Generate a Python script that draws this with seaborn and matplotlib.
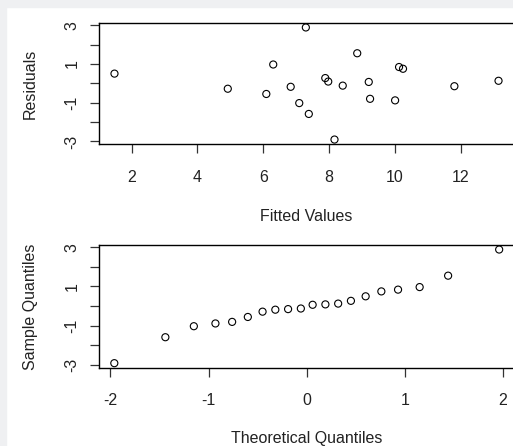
import matplotlib
matplotlib.use("Agg")
import matplotlib.pyplot as plt
from matplotlib.patches import Rectangle
import pandas as pd
import seaborn as sns

# values
fitted = [8.16, 7.38, 7.09, 10.00, 9.24, 6.09, 4.92, 6.83, 11.80, 8.41,
          9.20, 7.97, 13.14, 7.88, 1.48, 10.24, 10.12, 6.30, 8.85, 7.29]
residuals = [-2.90, -1.58, -1.02, -0.88, -0.80, -0.55, -0.28, -0.18, -0.15, -0.12,
             0.07, 0.09, 0.13, 0.27, 0.50, 0.75, 0.84, 0.97, 1.55, 2.88]

theoretical_q = [-1.96, -1.44, -1.15, -0.93, -0.76, -0.60, -0.45, -0.32, -0.19, -0.06,
                 0.06, 0.19, 0.32, 0.45, 0.60, 0.76, 0.93, 1.15, 1.44, 1.96]
sample_q = [-2.90, -1.58, -1.02, -0.88, -0.80, -0.55, -0.28, -0.18, -0.15, -0.12,
            0.07, 0.09, 0.13, 0.27, 0.50, 0.75, 0.84, 0.97, 1.55, 2.88]

top_xticks = [2, 4, 6, 8, 10, 12]
bot_xticks = [-2, -1, 0, 1, 2]
yticks = [-3, -2, -1, 0, 1, 2, 3]
ytick_labels = ["-3", "", "-1", "", "1", "", "3"]

sns.set_style("ticks")
plt.rcParams["font.family"] = ["Liberation Sans", "DejaVu Sans"]
plt.rcParams["axes.unicode_minus"] = False

df_fit = pd.DataFrame({"fitted": fitted, "resid": residuals})
df_qq = pd.DataFrame({"theo": theoretical_q, "samp": sample_q})

fig = plt.figure(figsize=(5.13, 4.46), dpi=100)
fig.patch.set_facecolor("white")
# light grey frame of the screenshot (top and left)
fig.patches.append(Rectangle((0, 1 - 7 / 446), 1, 7 / 446, transform=fig.transFigure,
                             color="#eff0f2", zorder=-5))
fig.patches.append(Rectangle((0, 0), 6 / 513, 1, transform=fig.transFigure,
                             color="#eff0f2", zorder=-5))

ax1 = fig.add_axes([99 / 513, 1 - 144 / 446, 415 / 513, 121 / 446])
ax2 = fig.add_axes([99 / 513, 1 - 367.7 / 446, 414.5 / 513, 122.7 / 446])

sns.scatterplot(data=df_fit, x="fitted", y="resid", ax=ax1, s=26,
                facecolors="none", edgecolor="black", linewidth=0.8)
sns.scatterplot(data=df_qq, x="theo", y="samp", ax=ax2, s=26,
                facecolors="none", edgecolor="black", linewidth=0.8)

ax1.set_xlim(1.01, 13.61)
ax2.set_xlim(-2.116, 2.106)
ax1.set_xticks(top_xticks)
ax1.set_xticklabels([str(t) for t in top_xticks])
ax2.set_xticks(bot_xticks)
ax2.set_xticklabels([str(t) for t in bot_xticks])

for ax in (ax1, ax2):
    ax.set_facecolor("white")
    ax.set_ylim(-3.13, 3.11)
    ax.set_yticks(yticks)
    ax.set_yticklabels(ytick_labels)
    for side in ("top", "right", "bottom", "left"):
        ax.spines[side].set_visible(True)
        ax.spines[side].set_color("black")
        ax.spines[side].set_linewidth(1.0)
    ax.tick_params(axis="both", direction="out", length=6.5, width=0.9,
                   color="#333333", labelsize=11.5, labelcolor="#222222")
    ax.tick_params(axis="x", pad=12)
    ax.tick_params(axis="y", pad=7.5, labelrotation=90)
    for lab in ax.get_yticklabels():
        lab.set_va("center")

ax1.set_xlabel("Fitted Values", fontsize=11.5, color="#222222")
ax1.set_ylabel("Residuals", fontsize=11.5, color="#222222")
ax2.set_xlabel("Theoretical Quantiles", fontsize=11.5, color="#222222")
ax2.set_ylabel("Sample Quantiles", fontsize=11.5, color="#222222")

ax1.xaxis.set_label_coords(0.5, -0.537)
ax2.xaxis.set_label_coords(0.5, -0.515)
ax1.yaxis.set_label_coords(-0.147, 0.5)
ax2.yaxis.set_label_coords(-0.147, 0.5)

fig.savefig("out.png", dpi=100)
